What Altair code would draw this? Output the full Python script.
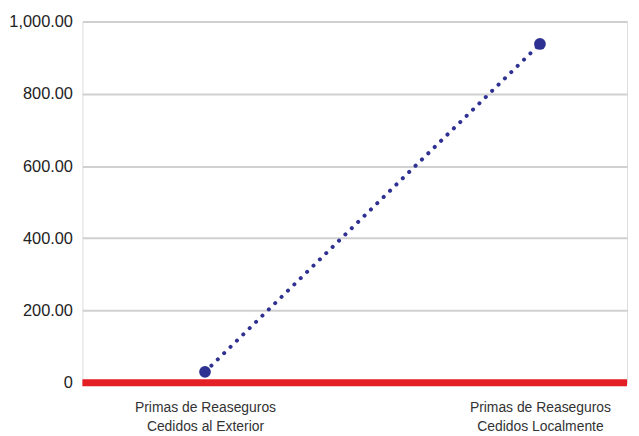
import altair as alt
import pandas as pd

categories = ["Primas de Reaseguros\nCedidos al Exterior", "Primas de Reaseguros\nCedidos Localmente"]
values = [30, 938]
y_ticks = [0, 200, 400, 600, 800, 1000]

df = pd.DataFrame({"idx": list(range(len(categories))), "cat": categories, "value": values})

label_parts = []
for i, c in enumerate(categories):
    lines = ",".join("'" + s + "'" for s in c.split("\n"))
    label_parts.append(f"datum.value == {i} ? [{lines}]")
label_expr = " : ".join(label_parts) + " : ''"

navy = "#2e3192"

x_enc = alt.X("idx:Q", scale=alt.Scale(domain=[-0.366, 1.26], nice=False, zero=False),
              axis=alt.Axis(values=list(range(len(categories))), labelExpr=label_expr, title=None,
                            grid=False, ticks=False, domain=False, labelPadding=18,
                            labelFontSize=14, labelColor="#333333", labelFont="Liberation Sans",
                            labelLineHeight=19, labelBaseline="top"))
y_enc = alt.Y("value:Q", scale=alt.Scale(domain=[0, 1000], nice=False),
              axis=alt.Axis(values=y_ticks, title=None, ticks=False, domain=False,
                            labelExpr="datum.value == 0 ? '0' : format(datum.value, ',.2f')",
                            labelFontSize=16.5, labelColor="#222222", labelFont="Liberation Sans",
                            labelPadding=10, minExtent=74, maxExtent=74,
                            gridColor="#d0d0d0", gridWidth=2))

base = alt.Chart(df)
line = base.mark_line(color=navy, strokeWidth=4, strokeDash=[0.1, 8.9], strokeCap="round").encode(x=x_enc, y=y_enc)
pts = base.mark_circle(color=navy, size=140, opacity=1).encode(x="idx:Q", y="value:Q")
red = alt.Chart(pd.DataFrame({"z": [0]})).mark_rule(color="#e31e24", strokeWidth=7).encode(y="z:Q")

chart = alt.layer(line, red, pts).properties(
    width=549, height=364, padding={"left": 0, "top": 4, "right": 0, "bottom": 0}
).configure_view(stroke=None).configure(background="white")

chart.save("out.html", embed_options={"renderer": "svg", "actions": False})
